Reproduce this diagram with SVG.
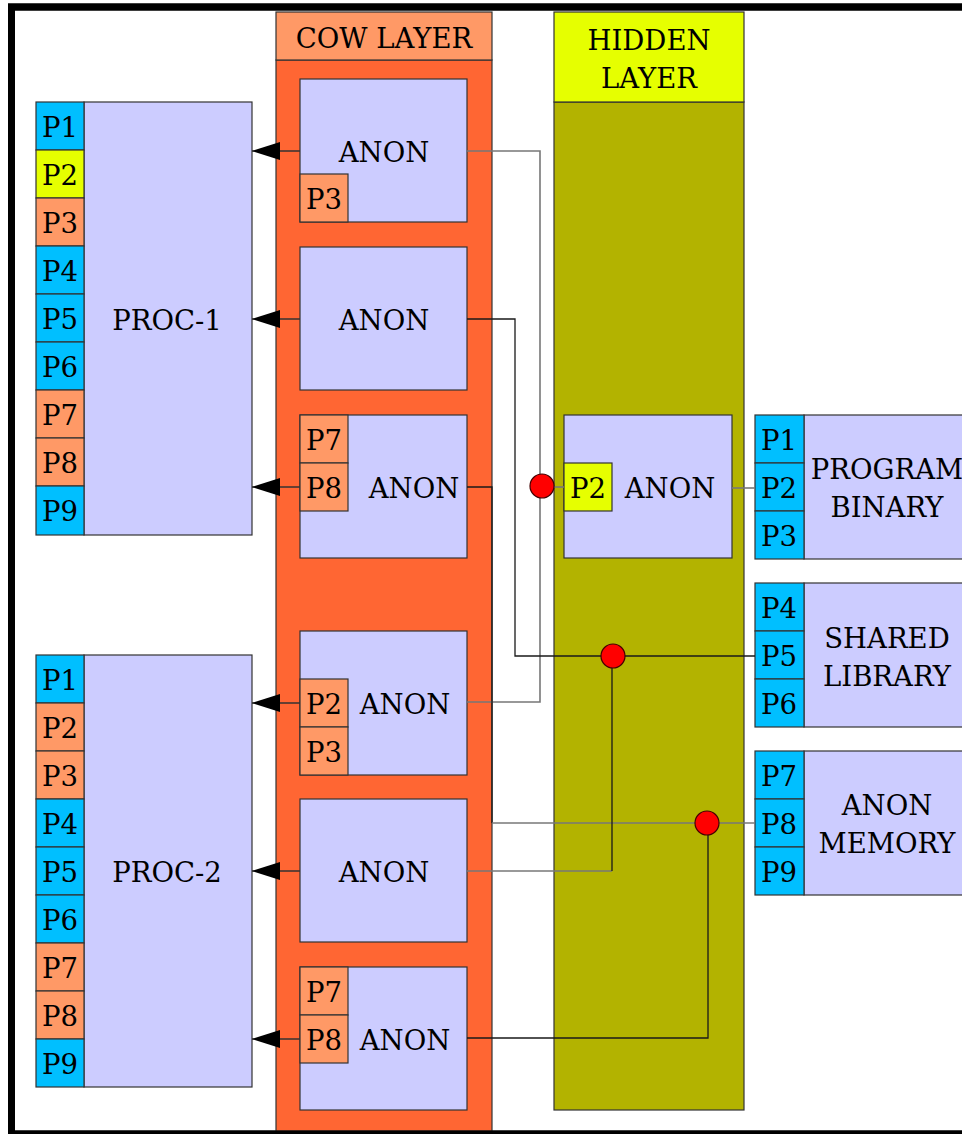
<svg xmlns="http://www.w3.org/2000/svg" width="962" height="1134" viewBox="0 0 962 1134">
<defs>
<style>
text{font-family:"DejaVu Serif","Liberation Serif",serif;font-size:27.5px;fill:#000;text-anchor:middle}
.box{stroke:#333;stroke-width:1.2}
.lav{fill:#CCCCFF}
.blu{fill:#00BFFF}
.yel{fill:#E6FF00}
.lor{fill:#FF9966}
.org{fill:#FF6633}
.oli{fill:#B3B300}
.ln{fill:none;stroke:#1a1a1a;stroke-width:1.3}
.lg{fill:none;stroke:#777;stroke-width:1.6}
.arr{fill:none;stroke:#333;stroke-width:1.3}
.dot{fill:#FF0000;stroke:#400;stroke-width:1.2}
</style>
<marker id="ah" viewBox="0 0 28 18" refX="28" refY="9" markerWidth="28" markerHeight="18" markerUnits="userSpaceOnUse" orient="auto">
<path d="M0,0 L28,9 L0,18 z" fill="#000"/>
</marker>
</defs>
<rect x="0" y="0" width="962" height="1134" fill="#fff"/>
<rect x="11.5" y="7" width="1000" height="1127" fill="#fff" stroke="#000" stroke-width="7"/>

<g id="cow-layer">
<rect class="box org" x="276" y="60" width="216" height="1071"/>
<rect class="box lor" x="276" y="12" width="216" height="48"/>
<text x="384" y="48">COW LAYER</text>
</g>

<g id="hidden-layer">
<rect class="box oli" x="554" y="102" width="190" height="1008"/>
<rect class="box yel" x="554" y="12" width="190" height="90"/>
<text x="649" y="50">HIDDEN</text>
<text x="649" y="88">LAYER</text>
</g>

<g id="proc-1">
<rect class="box lav" x="84" y="102" width="168" height="433"/>
<rect class="box blu" x="36" y="102" width="48" height="48"/>
<rect class="box yel" x="36" y="150" width="48" height="48"/>
<rect class="box lor" x="36" y="198" width="48" height="48"/>
<rect class="box blu" x="36" y="246" width="48" height="48"/>
<rect class="box blu" x="36" y="294" width="48" height="48"/>
<rect class="box blu" x="36" y="342" width="48" height="48"/>
<rect class="box lor" x="36" y="390" width="48" height="48"/>
<rect class="box lor" x="36" y="438" width="48" height="48"/>
<rect class="box blu" x="36" y="486" width="48" height="49"/>
<text x="60" y="137">P1</text>
<text x="60" y="185">P2</text>
<text x="60" y="233">P3</text>
<text x="60" y="281">P4</text>
<text x="60" y="329">P5</text>
<text x="60" y="377">P6</text>
<text x="60" y="425">P7</text>
<text x="60" y="473">P8</text>
<text x="60" y="521">P9</text>
<text x="167" y="330">PROC-1</text>
</g>

<g id="proc-2">
<rect class="box lav" x="84" y="655" width="168" height="432"/>
<rect class="box blu" x="36" y="655" width="48" height="48"/>
<rect class="box lor" x="36" y="703" width="48" height="48"/>
<rect class="box lor" x="36" y="751" width="48" height="48"/>
<rect class="box blu" x="36" y="799" width="48" height="48"/>
<rect class="box blu" x="36" y="847" width="48" height="48"/>
<rect class="box blu" x="36" y="895" width="48" height="48"/>
<rect class="box lor" x="36" y="943" width="48" height="48"/>
<rect class="box lor" x="36" y="991" width="48" height="48"/>
<rect class="box blu" x="36" y="1039" width="48" height="48"/>
<text x="60" y="690">P1</text>
<text x="60" y="738">P2</text>
<text x="60" y="786">P3</text>
<text x="60" y="834">P4</text>
<text x="60" y="882">P5</text>
<text x="60" y="930">P6</text>
<text x="60" y="978">P7</text>
<text x="60" y="1026">P8</text>
<text x="60" y="1074">P9</text>
<text x="167" y="882">PROC-2</text>
</g>

<g id="cow-anon-1">
<rect class="box lav" x="300" y="79" width="167" height="143"/>
<rect class="box lor" x="300" y="174" width="48" height="48"/>
<text x="324" y="209">P3</text>
<text x="384" y="162">ANON</text>
</g>
<g id="cow-anon-2">
<rect class="box lav" x="300" y="247" width="167" height="143"/>
<text x="384" y="330">ANON</text>
</g>
<g id="cow-anon-3">
<rect class="box lav" x="300" y="415" width="167" height="143"/>
<rect class="box lor" x="300" y="415" width="48" height="48"/>
<rect class="box lor" x="300" y="463" width="48" height="48"/>
<text x="324" y="450">P7</text>
<text x="324" y="498">P8</text>
<text x="414" y="498">ANON</text>
</g>
<g id="cow-anon-4">
<rect class="box lav" x="300" y="631" width="167" height="144"/>
<rect class="box lor" x="300" y="679" width="48" height="48"/>
<rect class="box lor" x="300" y="727" width="48" height="48"/>
<text x="324" y="714">P2</text>
<text x="324" y="762">P3</text>
<text x="405" y="714">ANON</text>
</g>
<g id="cow-anon-5">
<rect class="box lav" x="300" y="799" width="167" height="143"/>
<text x="384" y="882">ANON</text>
</g>
<g id="cow-anon-6">
<rect class="box lav" x="300" y="967" width="167" height="143"/>
<rect class="box lor" x="300" y="967" width="48" height="48"/>
<rect class="box lor" x="300" y="1015" width="48" height="48"/>
<text x="324" y="1002">P7</text>
<text x="324" y="1050">P8</text>
<text x="405" y="1050">ANON</text>
</g>

<g id="hidden-anon">
<rect class="box lav" x="564" y="415" width="168" height="143"/>
<rect class="box yel" x="564" y="463" width="48" height="48"/>
<text x="588" y="498">P2</text>
<text x="670" y="498">ANON</text>
</g>

<g id="program-binary">
<rect class="box lav" x="804" y="415" width="170" height="144"/>
<rect class="box blu" x="755" y="415" width="49" height="48"/>
<rect class="box blu" x="755" y="463" width="49" height="48"/>
<rect class="box blu" x="755" y="511" width="49" height="48"/>
<text x="779" y="450">P1</text>
<text x="779" y="498">P2</text>
<text x="779" y="546">P3</text>
<text x="887" y="479">PROGRAM</text>
<text x="887" y="517">BINARY</text>
</g>
<g id="shared-library">
<rect class="box lav" x="804" y="583" width="170" height="144"/>
<rect class="box blu" x="755" y="583" width="49" height="48"/>
<rect class="box blu" x="755" y="631" width="49" height="48"/>
<rect class="box blu" x="755" y="679" width="49" height="48"/>
<text x="779" y="618">P4</text>
<text x="779" y="666">P5</text>
<text x="779" y="714">P6</text>
<text x="887" y="648">SHARED</text>
<text x="887" y="686">LIBRARY</text>
</g>
<g id="anon-memory">
<rect class="box lav" x="804" y="751" width="170" height="144"/>
<rect class="box blu" x="755" y="751" width="49" height="48"/>
<rect class="box blu" x="755" y="799" width="49" height="48"/>
<rect class="box blu" x="755" y="847" width="49" height="48"/>
<text x="779" y="786">P7</text>
<text x="779" y="834">P8</text>
<text x="779" y="882">P9</text>
<text x="887" y="815">ANON</text>
<text x="887" y="853">MEMORY</text>
</g>

<g id="connectors">
<line class="arr" x1="300" y1="151" x2="252" y2="151" marker-end="url(#ah)"/>
<line class="arr" x1="300" y1="319" x2="252" y2="319" marker-end="url(#ah)"/>
<line class="arr" x1="300" y1="487" x2="252" y2="487" marker-end="url(#ah)"/>
<line class="arr" x1="300" y1="703" x2="252" y2="703" marker-end="url(#ah)"/>
<line class="arr" x1="300" y1="871" x2="252" y2="871" marker-end="url(#ah)"/>
<line class="arr" x1="300" y1="1039" x2="252" y2="1039" marker-end="url(#ah)"/>
<polyline class="lg" points="467,151 540,151 540,702 467,702"/>
<polyline class="ln" points="467,319 515,319 515,656 755,656"/>
<polyline class="ln" points="467,487 492,487 492,823"/>
<polyline class="lg" points="492,823 755,823"/>
<polyline class="lg" points="467,871 612,871"/>
<polyline class="ln" points="612,871 612,656"/>
<polyline class="ln" points="467,1038 708,1038 708,823"/>
<line class="lg" x1="542" y1="487" x2="564" y2="487"/>
<line class="lg" x1="732" y1="488" x2="755" y2="488"/>
<circle class="dot" cx="542" cy="486" r="12"/>
<circle class="dot" cx="613" cy="656" r="12"/>
<circle class="dot" cx="707" cy="823" r="12"/>
</g>
<rect x="11.5" y="7" width="1000" height="1127" fill="none" stroke="#000" stroke-width="7"/>
</svg>
